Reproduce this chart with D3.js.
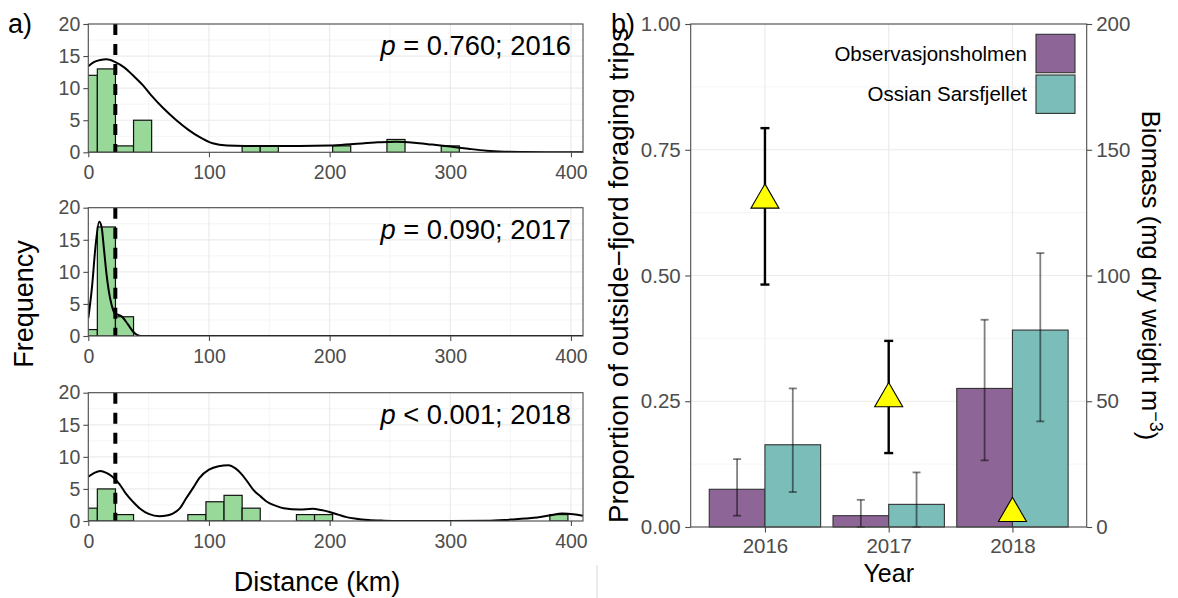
<!DOCTYPE html>
<html>
<head>
<meta charset="utf-8">
<script src="https://cdn.jsdelivr.net/npm/d3@7"></script>
<style>
  body { margin: 0; background: #fff; }
  svg { font-family: "Liberation Sans", Arial, sans-serif; }
</style>
</head>
<body>
<svg id="chart" width="1178" height="598"></svg>
<script>
// ---- panel a: distance histograms ----
const histYears = ['2016', '2017', '2018'];
const pSigns = ['= 0.760; 2016', '= 0.090; 2017', '< 0.001; 2018'];
const binWidth = 15;
const binCenters2016 = [0, 15, 30, 45, 135, 150, 210, 255, 300];
const counts2016 = [12, 13, 1, 5, 1, 1, 1, 2, 1];
const binCenters2017 = [0, 15, 30];
const counts2017 = [1, 17, 3];
const binCenters2018 = [0, 15, 30, 90, 105, 120, 135, 180, 195, 390];
const counts2018 = [2, 5, 1, 1, 3, 4, 2, 1, 1, 1];
const medianKm = [22.4, 22.4, 22.4];
const distTicks = [0, 100, 200, 300, 400];
const freqTicks = [0, 5, 10, 15, 20];

// density curves (km, scaled count)
const density2016 = [[0, 13.4], [5, 14.1], [10, 14.4], [15, 14.5], [22, 14.1], [30, 13.2], [37, 12.0],
  [45, 10.5], [52, 8.9], [62, 6.9], [73, 5.0], [83, 3.5], [92, 2.4], [103, 1.4], [115, 1.05],
  [130, 1.0], [150, 1.0], [175, 1.0], [200, 1.05], [220, 1.3], [240, 1.55], [255, 1.65],
  [270, 1.5], [285, 1.2], [300, 0.9], [315, 0.55], [330, 0.25], [345, 0.1], [360, 0.04],
  [380, 0.01], [410, 0]];
const density2017 = [[0, 2.8], [3, 7.5], [6, 14], [9, 17.8], [11, 17], [13, 13.5], [15, 9.8],
  [17, 7], [19.4, 4.8], [22, 3.5], [25, 3.3], [28, 3.0], [31, 2.3], [34, 1.5], [37, 0.7],
  [40, 0.2], [44, 0], [410, 0]];
const density2018 = [[0, 6.9], [5, 7.5], [10, 7.8], [15, 7.5], [20, 6.9], [26, 5.7], [31, 4.3],
  [37, 3.0], [43, 1.9], [50, 1.1], [59, 0.75], [65, 0.85], [70, 1.15], [76, 2.0], [81, 3.5],
  [87, 5.2], [92, 6.7], [100, 8.0], [108, 8.55], [116, 8.7], [122, 8.2], [127, 7.3], [132, 6.1],
  [137, 4.8], [143, 3.8], [148, 3.0], [155, 2.4], [162, 2.0], [175, 1.8], [186, 1.9], [193, 1.7],
  [200, 1.4], [207, 1.0], [214, 0.6], [222, 0.35], [232, 0.15], [245, 0.05], [260, 0.01], [300, 0],
  [330, 0.02], [345, 0.15], [352, 0.25], [362, 0.4], [372, 0.55], [382, 0.85], [393, 1.15],
  [402, 1.05], [410, 0.8]];

// ---- panel b: biomass bars + proportion triangles ----
const years = ['2016', '2017', '2018'];
const sites = ['Observasjonsholmen', 'Ossian Sarsfjellet'];
const biomassObs = [15, 4.5, 55.1];
const biomassObsLo = [4.5, 0, 26.5];
const biomassObsHi = [27, 10.8, 82.4];
const biomassOss = [32.7, 9, 78.3];
const biomassOssLo = [13.9, 0, 42];
const biomassOssHi = [55.1, 21.7, 108.9];
const propOutside = [0.65, 0.255, 0.027];
const propLo = [0.482, 0.147, null];
const propHi = [0.793, 0.37, null];
const propTicks = [0, 0.25, 0.5, 0.75, 1];
const biomassTicks = [0, 50, 100, 150, 200];

const svg = d3.select('#chart');
const fontFam = '"Liberation Sans", Arial, sans-serif';
const gridMajor = '#ebebeb', gridMinor = '#f3f3f3', borderCol = '#4d4d4d', tickCol = '#4d4d4d';

function styleAxis(g, size) {
  g.attr('font-family', fontFam);
  g.select('.domain').remove();
  g.selectAll('line').attr('stroke', borderCol).attr('stroke-width', 1.1);
  g.selectAll('text').attr('fill', tickCol).style('font-size', size + 'px');
}

// ---- draw panel a ----
const hist = [
  { centers: binCenters2016, counts: counts2016, dens: density2016 },
  { centers: binCenters2017, counts: counts2017, dens: density2017 },
  { centers: binCenters2018, counts: counts2018, dens: density2018 }
];
const panelTops = [24, 207.7, 392.7];
const panelH = 128.3;
const xA = d3.scaleLinear().domain([0, 410]).range([88.3, 583]);

hist.forEach((h, i) => {
  const top = panelTops[i];
  const yA = d3.scaleLinear().domain([0, 20]).range([top + panelH, top]);
  const g = svg.append('g');

  g.append('clipPath').attr('id', 'clipA' + i)
    .append('rect').attr('x', xA(0)).attr('y', top).attr('width', xA(410) - xA(0)).attr('height', panelH);

  // grid
  d3.range(50, 410, 100).forEach(v => g.append('line').attr('x1', xA(v)).attr('x2', xA(v))
    .attr('y1', top).attr('y2', top + panelH).attr('stroke', gridMinor).attr('stroke-width', 0.8));
  d3.range(2.5, 20, 5).forEach(v => g.append('line').attr('x1', xA(0)).attr('x2', xA(410))
    .attr('y1', yA(v)).attr('y2', yA(v)).attr('stroke', gridMinor).attr('stroke-width', 0.8));
  distTicks.forEach(v => g.append('line').attr('x1', xA(v)).attr('x2', xA(v))
    .attr('y1', top).attr('y2', top + panelH).attr('stroke', gridMajor).attr('stroke-width', 1.2));
  freqTicks.forEach(v => g.append('line').attr('x1', xA(0)).attr('x2', xA(410))
    .attr('y1', yA(v)).attr('y2', yA(v)).attr('stroke', gridMajor).attr('stroke-width', 1.2));

  const inner = g.append('g').attr('clip-path', `url(#clipA${i})`);

  // bars
  inner.selectAll('rect.bar').data(h.centers).join('rect')
    .attr('class', 'bar')
    .attr('x', d => xA(d - binWidth / 2))
    .attr('width', d => xA(d + binWidth / 2) - xA(d - binWidth / 2))
    .attr('y', (d, j) => yA(h.counts[j]))
    .attr('height', (d, j) => yA(0) - yA(h.counts[j]))
    .attr('fill', '#98d898')
    .attr('stroke', '#111')
    .attr('stroke-width', 1.2);

  // median dashed line
  inner.append('line')
    .attr('x1', xA(medianKm[i])).attr('x2', xA(medianKm[i]))
    .attr('y1', top).attr('y2', top + panelH)
    .attr('stroke', '#000').attr('stroke-width', 4).attr('stroke-dasharray', '11,9');

  // density curve
  inner.append('path')
    .datum(h.dens)
    .attr('d', d3.line().x(d => xA(d[0])).y(d => yA(d[1])).curve(d3.curveMonotoneX))
    .attr('fill', 'none').attr('stroke', '#000').attr('stroke-width', 2);

  // border
  g.append('rect').attr('x', xA(0)).attr('y', top).attr('width', xA(410) - xA(0)).attr('height', panelH)
    .attr('fill', 'none').attr('stroke', borderCol).attr('stroke-width', 1.1);

  // axes
  g.append('g').attr('transform', `translate(${xA(0)},0)`)
    .call(d3.axisLeft(yA).tickValues(freqTicks).tickSize(5).tickPadding(3).tickSizeOuter(0))
    .call(a => styleAxis(a, 19.5));
  g.append('g').attr('transform', `translate(0,${top + panelH})`)
    .call(d3.axisBottom(xA).tickValues(distTicks).tickSize(5).tickPadding(8).tickSizeOuter(0))
    .call(a => styleAxis(a, 19.5));

  // p label
  const t = g.append('text').attr('x', 571).attr('y', top + 31)
    .attr('text-anchor', 'end').style('font-size', '27.3px').attr('fill', '#000');
  t.append('tspan').style('font-style', 'italic').text('p');
  t.append('tspan').text(' ' + pSigns[i]);
});

svg.append('text').attr('x', 8).attr('y', 33).style('font-size', '27px').text('a)');
svg.append('text').attr('transform', 'translate(33,304) rotate(-90)')
  .attr('text-anchor', 'middle').style('font-size', '27px').text('Frequency');
svg.append('text').attr('x', 317).attr('y', 591).attr('text-anchor', 'middle')
  .style('font-size', '27px').text('Distance (km)');

// faint separator between panels
svg.append('line').attr('x1', 597).attr('x2', 597).attr('y1', 565).attr('y2', 598)
  .attr('stroke', '#d9d9d9').attr('stroke-width', 1);

// ---- draw panel b ----
const bLeft = 690.7, bRight = 1086.7, bTop = 24, bBottom = 527;
const xB = d3.scalePoint().domain(years).range([bLeft, bRight]).padding(0.6);
const step = xB.step();
const xSite = d3.scaleBand().domain(sites).range([-0.45 * step, 0.45 * step]);
const yProp = d3.scaleLinear().domain([0, 1]).range([bBottom, bTop]);
const yBio = d3.scaleLinear().domain([0, 200]).range([bBottom, bTop]);
const siteColor = d3.scaleOrdinal().domain(sites).range(['#8d6596', '#7abdb9']);

const gb = svg.append('g');
d3.range(0.125, 1, 0.25).forEach(v => gb.append('line').attr('x1', bLeft).attr('x2', bRight)
  .attr('y1', yProp(v)).attr('y2', yProp(v)).attr('stroke', gridMinor).attr('stroke-width', 0.8));
propTicks.forEach(v => gb.append('line').attr('x1', bLeft).attr('x2', bRight)
  .attr('y1', yProp(v)).attr('y2', yProp(v)).attr('stroke', gridMajor).attr('stroke-width', 1.2));
years.forEach(v => gb.append('line').attr('x1', xB(v)).attr('x2', xB(v))
  .attr('y1', bTop).attr('y2', bBottom).attr('stroke', gridMajor).attr('stroke-width', 1.2));

const barRows = [];
years.forEach((yr, i) => {
  barRows.push({ year: yr, site: sites[0], v: biomassObs[i], lo: biomassObsLo[i], hi: biomassObsHi[i] });
  barRows.push({ year: yr, site: sites[1], v: biomassOss[i], lo: biomassOssLo[i], hi: biomassOssHi[i] });
});

gb.selectAll('rect.bio').data(barRows).join('rect')
  .attr('class', 'bio')
  .attr('x', d => xB(d.year) + xSite(d.site))
  .attr('width', xSite.bandwidth())
  .attr('y', d => yBio(d.v))
  .attr('height', d => yBio(0) - yBio(d.v))
  .attr('fill', d => siteColor(d.site))
  .attr('stroke', '#333').attr('stroke-width', 1.1);

// biomass error bars
const capB = 4;
barRows.forEach(d => {
  const cx = xB(d.year) + xSite(d.site) + xSite.bandwidth() / 2;
  const e = gb.append('g').attr('stroke', 'rgba(0,0,0,0.5)').attr('stroke-width', 1.8);
  e.append('line').attr('x1', cx).attr('x2', cx).attr('y1', yBio(d.lo)).attr('y2', yBio(d.hi));
  e.append('line').attr('x1', cx - capB).attr('x2', cx + capB).attr('y1', yBio(d.hi)).attr('y2', yBio(d.hi));
  e.append('line').attr('x1', cx - capB).attr('x2', cx + capB).attr('y1', yBio(d.lo)).attr('y2', yBio(d.lo));
});

// proportion error bars and triangles
const capP = 4.5;
years.forEach((yr, i) => {
  if (propLo[i] == null) return;
  const cx = xB(yr);
  const e = gb.append('g').attr('stroke', '#000').attr('stroke-width', 2.4);
  e.append('line').attr('x1', cx).attr('x2', cx).attr('y1', yProp(propLo[i])).attr('y2', yProp(propHi[i]));
  e.append('line').attr('x1', cx - capP).attr('x2', cx + capP).attr('y1', yProp(propHi[i])).attr('y2', yProp(propHi[i]));
  e.append('line').attr('x1', cx - capP).attr('x2', cx + capP).attr('y1', yProp(propLo[i])).attr('y2', yProp(propLo[i]));
});
gb.selectAll('path.tri').data(years).join('path')
  .attr('class', 'tri')
  .attr('transform', (d, i) => `translate(${xB(d)},${yProp(propOutside[i])})`)
  .attr('d', d3.symbol().type(d3.symbolTriangle).size(340))
  .attr('fill', '#ffff00').attr('stroke', '#000').attr('stroke-width', 1.1);

// border
gb.append('rect').attr('x', bLeft).attr('y', bTop).attr('width', bRight - bLeft).attr('height', bBottom - bTop)
  .attr('fill', 'none').attr('stroke', borderCol).attr('stroke-width', 1.1);

// axes
gb.append('g').attr('transform', `translate(${bLeft},0)`)
  .call(d3.axisLeft(yProp).tickValues(propTicks).tickFormat(d3.format('.2f')).tickSize(5.5).tickPadding(4.5).tickSizeOuter(0))
  .call(a => styleAxis(a, 20.5));
gb.append('g').attr('transform', `translate(${bRight},0)`)
  .call(d3.axisRight(yBio).tickValues(biomassTicks).tickSize(5.5).tickPadding(4).tickSizeOuter(0))
  .call(a => styleAxis(a, 20.5));
gb.append('g').attr('transform', `translate(0,${bBottom})`)
  .call(d3.axisBottom(xB).tickSize(5.5).tickPadding(6).tickSizeOuter(0))
  .call(a => styleAxis(a, 20.5));

// legend
const leg = gb.append('g');
sites.forEach((s, i) => {
  const ky = 34.3 + i * 40.7;
  leg.append('rect').attr('x', 1036).attr('y', ky).attr('width', 39).attr('height', 38.4)
    .attr('fill', siteColor(s)).attr('stroke', '#333').attr('stroke-width', 1.1);
  leg.append('text').attr('x', 1027).attr('y', ky + 19.2).attr('dy', '0.35em')
    .attr('text-anchor', 'end').style('font-size', '20.5px').text(s);
});

svg.append('text').attr('x', 611).attr('y', 33).style('font-size', '27px').text('b)');
svg.append('text').attr('transform', `translate(628,${(bTop + bBottom) / 2}) rotate(-90)`)
  .attr('text-anchor', 'middle').style('font-size', '27.8px').text('Proportion of outside\u2212fjord foraging trips');
const rt = svg.append('text').attr('transform', `translate(1142,${(bTop + bBottom) / 2}) rotate(90)`)
  .attr('text-anchor', 'middle').style('font-size', '25.5px');
rt.append('tspan').text('Biomass (mg dry weight m');
rt.append('tspan').attr('dy', '-0.45em').style('font-size', '18px').text('\u22123');
rt.append('tspan').attr('dy', '0.45em').text(')');
svg.append('text').attr('x', (bLeft + bRight) / 2).attr('y', 582).attr('text-anchor', 'middle')
  .style('font-size', '25px').text('Year');
</script>
</body>
</html>
